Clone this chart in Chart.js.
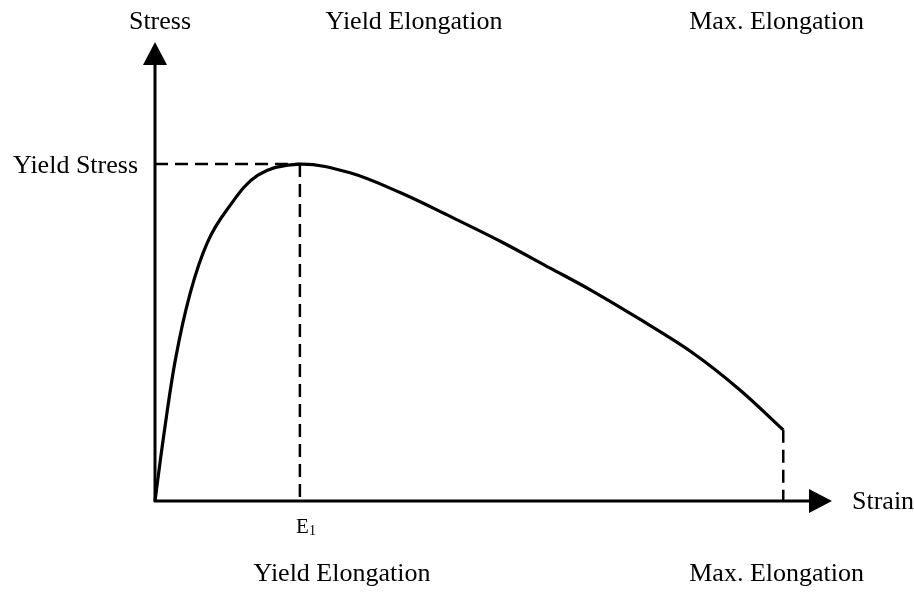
<!DOCTYPE html>
<html>
<head>
<meta charset="utf-8">
<script src="https://cdn.jsdelivr.net/npm/chart.js@4.4.1/dist/chart.umd.min.js"></script>
<style>
  html, body { margin: 0; padding: 0; background: #fff; }
  #wrap { width: 914px; height: 594px; position: relative; }
</style>
</head>
<body>
<div id="wrap"><canvas id="stressChart"></canvas></div>
<script>
// strain (0..100 = arrow tip) / stress (0..100 = arrow tip)
const strain = [0, 1.2, 3.0, 5.2, 7.7, 10.6, 15.2, 21.4, 28.8, 36.2, 43.6, 51.0, 58.3, 64.3, 71.6, 79.5, 86.4, 92.8];
const stress = [0, 13.3, 30.7, 45.3, 56.2, 63.4, 71.0, 73.4, 71.5, 67.2, 62.0, 56.6, 50.8, 46.0, 39.6, 32.2, 24.2, 15.5];

const yieldStrain = 21.4;
const yieldStress = 73.4;
const maxStrain   = 92.8;
const maxStress   = 15.5;

const axisLabels = { y: 'Stress', x: 'Strain', yieldStress: 'Yield Stress', e1: 'E', e1Sub: '1' };
const topLabels    = ['Yield Elongation', 'Max. Elongation'];
const bottomLabels = ['Yield Elongation', 'Max. Elongation'];

const ink = '#000';
const serif = '"Liberation Serif", "Times New Roman", serif';

// axes, arrows, dashed guides and texts
const sketchPlugin = {
    id: 'sketch',
    beforeDatasetsDraw(chart) {
        const { ctx, scales: { x, y } } = chart;
        const x0 = x.getPixelForValue(0), y0 = y.getPixelForValue(0);
        const xTip = x.getPixelForValue(100), yTip = y.getPixelForValue(100);
        const xy = x.getPixelForValue(yieldStrain), yy = y.getPixelForValue(yieldStress);

        ctx.save();
        ctx.strokeStyle = ink;
        ctx.fillStyle = ink;

        // dashed guides
        ctx.lineWidth = 2.5;
        ctx.setLineDash([13, 7]);
        ctx.beginPath();
        ctx.moveTo(x0, yy);
        ctx.lineTo(xy, yy);
        ctx.stroke();
        ctx.beginPath();
        ctx.moveTo(xy, yy);
        ctx.lineTo(xy, y0);
        ctx.stroke();
        ctx.beginPath();
        ctx.moveTo(x.getPixelForValue(maxStrain), y.getPixelForValue(maxStress));
        ctx.lineTo(x.getPixelForValue(maxStrain), y0);
        ctx.stroke();
        ctx.setLineDash([]);

        // axes
        ctx.lineWidth = 3;
        ctx.beginPath();
        ctx.moveTo(x0, y0 + 1);
        ctx.lineTo(x0, yTip + 20);
        ctx.moveTo(x0 - 1, y0);
        ctx.lineTo(xTip - 20, y0);
        ctx.stroke();

        // arrow heads
        ctx.beginPath();
        ctx.moveTo(x0, yTip);
        ctx.lineTo(x0 - 12, yTip + 23);
        ctx.lineTo(x0 + 12, yTip + 23);
        ctx.closePath();
        ctx.fill();
        ctx.beginPath();
        ctx.moveTo(xTip, y0);
        ctx.lineTo(xTip - 23, y0 - 12);
        ctx.lineTo(xTip - 23, y0 + 12);
        ctx.closePath();
        ctx.fill();

        // texts
        ctx.font = '26px ' + serif;
        ctx.textBaseline = 'middle';
        ctx.textAlign = 'center';
        ctx.fillText(axisLabels.y, 160, 22);
        ctx.fillText(topLabels[0], 414, 22);
        ctx.fillText(bottomLabels[0], 342, 574);
        ctx.textAlign = 'right';
        ctx.fillText(topLabels[1], 864, 22);
        ctx.fillText(bottomLabels[1], 864, 574);

        ctx.textAlign = 'left';
        ctx.fillText(axisLabels.x, 852, y0 + 1);
        ctx.textAlign = 'right';
        ctx.fillText(axisLabels.yieldStress, 138, yy + 2);

        // E1
        ctx.textAlign = 'left';
        ctx.font = '21px ' + serif;
        ctx.fillText(axisLabels.e1, xy - 4, y0 + 26);
        ctx.font = '14px ' + serif;
        ctx.fillText(axisLabels.e1Sub, xy + 9, y0 + 30);
        ctx.restore();
    }
};

new Chart(document.getElementById('stressChart').getContext('2d'), {
    type: 'line',
    data: {
        datasets: [{
            data: strain.map((v, i) => ({ x: v, y: stress[i] })),
            borderColor: ink,
            borderWidth: 3.2,
            pointRadius: 0,
            fill: false,
            tension: 0.35,
            clip: false
        }]
    },
    options: {
        responsive: true,
        maintainAspectRatio: false,
        animation: false,
        events: [],
        layout: { padding: { left: 155, top: 42, right: 82, bottom: 93 } },
        plugins: {
            legend: { display: false },
            title: { display: false },
            tooltip: { enabled: false }
        },
        scales: {
            x: { type: 'linear', min: 0, max: 100, display: false },
            y: { type: 'linear', min: 0, max: 100, display: false }
        }
    },
    plugins: [sketchPlugin]
});
</script>
</body>
</html>
